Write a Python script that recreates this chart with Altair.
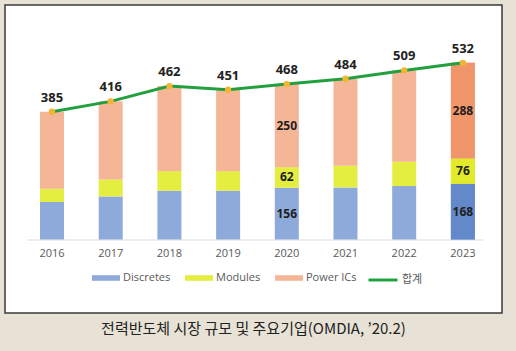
import altair as alt
import pandas as pd

YEARS = ['2016', '2017', '2018', '2019', '2020', '2021', '2022', '2023']
DISCRETES = [113, 130, 147, 147, 156, 157, 161, 168]
MODULES = [40, 51, 59, 59, 62, 65, 73, 76]
POWER_ICS = [232, 235, 256, 245, 250, 262, 275, 288]
TOTAL = [385, 416, 462, 451, 468, 484, 509, 532]
SERIES = ['Discretes', 'Modules', 'Power ICs']
COLORS = ['#8eaadb', '#e4ee40', '#f5b697']
DARK_COLORS = ['#6389cb', '#e2ea2a', '#f1956b']
LINE_NAME = '합계'
LABEL_YEARS = ['2020', '2023']
HIGHLIGHT_YEARS = ['2023']
CAPTION = '전력반도체 시장 규모 및 주요기업(OMDIA, ’20.2)'

rows = []
for i, y in enumerate(YEARS):
    for k, (s, vals) in enumerate(zip(SERIES, [DISCRETES, MODULES, POWER_ICS])):
        rows.append({'year': y, 'series': s, 'value': vals[i], 'ord': k,
                     'dark': DARK_COLORS[k],
                     'hl': y in HIGHLIGHT_YEARS, 'lab': y in LABEL_YEARS})
bars_df = pd.DataFrame(rows)
tot_df = pd.DataFrame({'year': YEARS, 'total': TOTAL, 'name': [LINE_NAME] * len(YEARS)})

Y_DOMAIN = [-221, 706]
xaxis = alt.Axis(title=None, labelAngle=0, ticks=False, grid=False,
                 domainColor='#d9d9d9', domainWidth=1,
                 labelFont='Open Sans', labelFontSize=11, labelColor='#595959',
                 labelPadding=8, offset=-73.5)
xscale = alt.Scale(range=[22, 478], paddingInner=0.591, paddingOuter=0.18, align=0.616)
X = alt.X('year:N', sort=YEARS, scale=xscale, axis=xaxis)


def Y(field, **kw):
    return alt.Y(field, scale=alt.Scale(domain=Y_DOMAIN, nice=False, zero=False), axis=None, **kw)


base_bars = alt.Chart(bars_df).mark_bar().encode(
    x=X,
    y=Y('value:Q', stack='zero'),
    color=alt.Color('series:N', scale=alt.Scale(domain=SERIES, range=COLORS),
                    legend=alt.Legend(title=None, orient='none', legendX=87, legendY=259,
                                      direction='horizontal',
                                      symbolType='M-1,-0.2H1V0.2H-1Z', symbolSize=784,
                                      symbolStrokeWidth=0, labelFont='Open Sans',
                                      labelFontSize=11, labelColor='#595959',
                                      labelOffset=3, columnPadding=14, padding=0)),
    order=alt.Order('ord:Q', sort='ascending'),
)

hl_bars = alt.Chart(bars_df).transform_filter('datum.hl').mark_bar().encode(
    x=X,
    y=Y('value:Q', stack='zero'),
    fill=alt.Fill('dark:N', scale=None),
    order=alt.Order('ord:Q', sort='ascending'),
)

seg_labels = alt.Chart(bars_df).transform_stack(
    stack='value', groupby=['year'], as_=['v0', 'v1'],
    sort=[alt.SortField('ord', order='ascending')]
).transform_calculate(mid='(datum.v0 + datum.v1) / 2').transform_filter('datum.lab').mark_text(
    font='Noto Sans', fontSize=12, fontWeight='bold', color='#1e1e1e'
).encode(
    x=X,
    y=Y('mid:Q'),
    text=alt.Text('value:Q'),
)

line = alt.Chart(tot_df).mark_line(strokeWidth=3).encode(
    x=X,
    y=Y('total:Q'),
    stroke=alt.Stroke('name:N', scale=alt.Scale(domain=[LINE_NAME], range=['#22a040']),
                      legend=alt.Legend(title=None, orient='none', legendX=362, legendY=259,
                                        symbolType='stroke', symbolSize=841,
                                        symbolStrokeWidth=3,
                                        labelFont='Noto Sans CJK KR', labelFontSize=11,
                                        labelColor='#595959', labelOffset=3, padding=0)),
)

pts = alt.Chart(tot_df).mark_point(filled=True, color='#f2b531', size=40, opacity=1).encode(
    x=X,
    y=Y('total:Q'),
)

tot_labels = alt.Chart(tot_df).mark_text(
    dy=-14, font='Noto Sans', fontSize=13, fontWeight='bold', color='#222222'
).encode(
    x=X,
    y=Y('total:Q'),
    text=alt.Text('total:Q'),
)

chart = alt.layer(base_bars, hl_bars, seg_labels, line, pts, tot_labels).properties(
    width=497, height=308,
    autosize=alt.AutoSizeParams(type='none'),
    padding={'left': 5, 'top': 5, 'right': 14, 'bottom': 38},
    background='#e8e2d6',
    title=alt.TitleParams(text=CAPTION, orient='bottom', anchor='middle',
                          font='Noto Sans CJK KR', fontSize=15, fontWeight='normal',
                          color='#222222', offset=9),
).configure_view(fill='white', stroke='#3a3a3a', strokeWidth=1.5)

chart.save('out.html', embed_options={'renderer': 'svg', 'actions': False})
